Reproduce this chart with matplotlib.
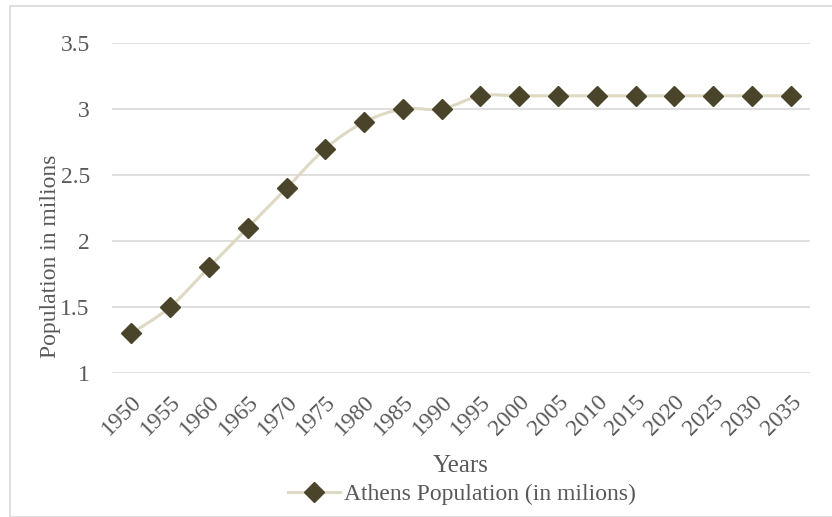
import matplotlib.pyplot as plt
import numpy as np
from matplotlib.path import Path
from matplotlib.patches import PathPatch, Rectangle
from matplotlib.lines import Line2D

years = ['1950', '1955', '1960', '1965', '1970', '1975', '1980', '1985', '1990',
         '1995', '2000', '2005', '2010', '2015', '2020', '2025', '2030', '2035']
population = [1.3, 1.5, 1.8, 2.1, 2.4, 2.7, 2.9, 3.0, 3.0,
              3.1, 3.1, 3.1, 3.1, 3.1, 3.1, 3.1, 3.1, 3.1]
y_ticks = [1, 1.5, 2, 2.5, 3, 3.5]
y_tick_labels = ['1', '1.5', '2', '2.5', '3', '3.5']

line_color = '#DDD9C3'
marker_color = '#4A452A'
text_color = '#595959'
grid_color = '#D9D9D9'

plt.rcParams['font.family'] = ['Liberation Serif', 'DejaVu Serif']

fig = plt.figure(figsize=(8.32, 5.17), dpi=100)
ax = fig.add_axes([112 / 832, 1 - 373 / 517, 698 / 832, 330 / 517])

# outer chart frame
fig.patches.append(Rectangle((10 / 832, 0), 1, 1 - 6 / 517, transform=fig.transFigure,
                             fill=False, edgecolor=grid_color, linewidth=1.2))

x = np.arange(len(years))
y = np.array(population)

# smoothed line through the points (cubic Bezier segments, Catmull-Rom style)
verts = [(x[0], y[0])]
codes = [Path.MOVETO]
n = len(x)
for i in range(n - 1):
    p0 = np.array([x[max(i - 1, 0)], y[max(i - 1, 0)]])
    p1 = np.array([x[i], y[i]])
    p2 = np.array([x[i + 1], y[i + 1]])
    p3 = np.array([x[min(i + 2, n - 1)], y[min(i + 2, n - 1)]])
    c1 = p1 + (p2 - p0) / 6
    c2 = p2 - (p3 - p1) / 6
    verts += [tuple(c1), tuple(c2), tuple(p2)]
    codes += [Path.CURVE4] * 3
ax.add_patch(PathPatch(Path(verts, codes), fill=False, edgecolor=line_color,
                       linewidth=2.2, zorder=2, capstyle='round'))
ax.plot(x, y, linestyle='none', marker='D', markersize=10,
        color=marker_color, zorder=3)

ax.set_xlim(-0.5, n - 0.5)
ax.set_ylim(1, 3.5)
ax.set_yticks(y_ticks)
ax.set_yticklabels(y_tick_labels)
ax.set_xticks(x)
ax.set_xticklabels(years, rotation=45, ha='right', va='top', rotation_mode='anchor')
ax.tick_params(axis='both', length=0, labelsize=17, colors=text_color)
ax.tick_params(axis='y', pad=16)
ax.tick_params(axis='x', pad=13)
ax.grid(axis='y', color=grid_color, linewidth=1.2)
ax.set_axisbelow(True)
for s in ax.spines.values():
    s.set_visible(False)

fig.text(461 / 832, 1 - 466 / 517, 'Years', fontsize=18, color=text_color,
         ha='center', va='center')
fig.text(51 / 832, 1 - 256 / 517, 'Population in milions', fontsize=17,
         color=text_color, rotation=90, ha='center', va='center')

handle = Line2D([], [], color=line_color, linewidth=2.2, marker='D',
                markersize=10, markerfacecolor=marker_color,
                markeredgecolor=marker_color)
fig.legend([handle], ['Athens Population (in milions)'], loc='center',
           bbox_to_anchor=(462 / 832, 1 - 494 / 517), frameon=False,
           fontsize=17, labelcolor=text_color, handlelength=2.2,
           handletextpad=0.2, borderpad=0)

plt.savefig('out.png', dpi=100)
